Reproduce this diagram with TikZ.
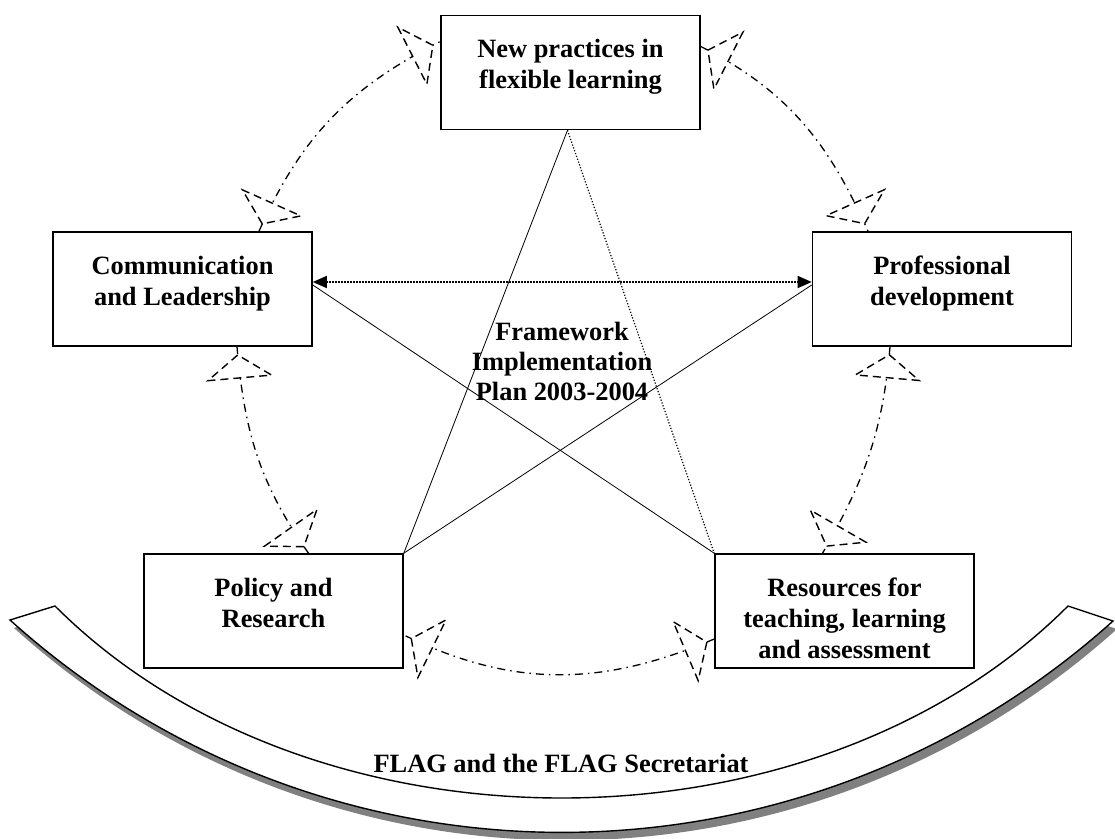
\documentclass[tikz,border=0pt]{standalone}
\usepackage{fontspec}
\setmainfont{Liberation Serif}
\usetikzlibrary{arrows.meta, positioning, calc, decorations.markings}
\newcommand{\boxlines}[1]{\parbox[c][66pt][t]{250pt}{\centering #1}}

\begin{document}
\begin{tikzpicture}[
    x=1pt, y=1pt,
    box/.style={rectangle, draw, line width=1.6pt, minimum width=259pt, minimum height=114pt, inner sep=0pt, font=\fontsize{26.4pt}{31pt}\selectfont\bfseries},
    plantext/.style={font=\fontsize{26.4pt}{30pt}\selectfont\bfseries, align=center, inner sep=0pt},
    link/.style={line width=0.8pt},
    dotlink/.style={line width=1.2pt, dash pattern=on 1.2pt off 1.8pt},
    headline/.style={draw, fill=white, line width=1.4pt, dash pattern=on 8pt off 5pt},
    flow/.style={line width=1.3pt, dash pattern=on 8pt off 5pt on 1.5pt off 5pt,
        postaction={decorate},
        decoration={markings,
            mark=at position 0 with {\path[headline] (8,0) -- (31,32) -- (31,-32) -- cycle;},
            mark=at position 0.999 with {\path[headline] (-8,0) -- (-31,32) -- (-31,-32) -- cycle;}}},
    tip/.style={{Triangle[length=14pt, width=12pt]}-{Triangle[length=14pt, width=12pt]}}
]
\useasboundingbox (0,0) rectangle (1115,-838);

% === FLAG banner (bottom) ===
\fill[gray] ([shift={(4,-8)}]55,-606) .. controls ([shift={(4,-8)}]311,-862) and ([shift={(4,-8)}]812,-862) .. ([shift={(4,-8)}]1068,-606)
    -- ([shift={(4,-8)}]1113,-621) .. controls ([shift={(4,-8)}]799,-903) and ([shift={(4,-8)}]324,-903) .. ([shift={(4,-8)}]10,-620) -- cycle;
\draw[line width=1.4pt, fill=white] (55,-606) .. controls (311,-862) and (812,-862) .. (1068,-606)
    -- (1113,-621) .. controls (799,-903) and (324,-903) .. (10,-620) -- cycle;
\node[plantext, anchor=base] (flag) at (561,-772) {FLAG and the FLAG Secretariat};

% === the five boxes ===
\node[box] (prac) at (570.5,-72.5) {\boxlines{New practices in\\flexible learning}};
\node[box] (comm) at (182.5,-289) {\boxlines{Communication\\and Leadership}};
\node[box] (prof) at (942,-289) {\boxlines{Professional\\development}};
\node[box] (policy) at (273.5,-611) {\boxlines{Policy and\\Research}};
\node[box] (res) at (844.5,-611) {\boxlines{Resources for\\teaching, learning\\and assessment}};

% === star ===
\draw[link] ([xshift=-3pt]prac.south) -- (policy.north east);
\draw[dotlink] ([xshift=-3pt]prac.south) -- (res.north west);
\draw[link] (res.north west) -- ([yshift=4pt]comm.east);
\draw[link] (policy.north east) -- ([yshift=4pt]prof.west);
\draw[dotlink, line width=1.5pt, tip] ([yshift=7pt]comm.east) -- ([yshift=7pt]prof.west);

\node[plantext, anchor=north] (plan) at (562,-322) {Framework\\Implementation\\Plan 2003-2004};

% === cycle round the boxes ===
\draw[flow] ([xshift=76.5pt]comm.north) to[out=66, in=207] ([yshift=31pt]prac.west);
\draw[flow] ([yshift=26pt]prac.east) to[out=-27, in=114] ([xshift=-74pt]prof.north);
\draw[flow] ([xshift=-52pt]prof.south) to[out=-95, in=60] ([xshift=-22pt]res.north);
\draw[flow] ([yshift=-28pt]res.west) to[out=203, in=-26] ([yshift=-24pt]policy.east);
\draw[flow] ([xshift=35pt]policy.north) to[out=125, in=275] ([xshift=54.5pt]comm.south);

\end{tikzpicture}
\end{document}
